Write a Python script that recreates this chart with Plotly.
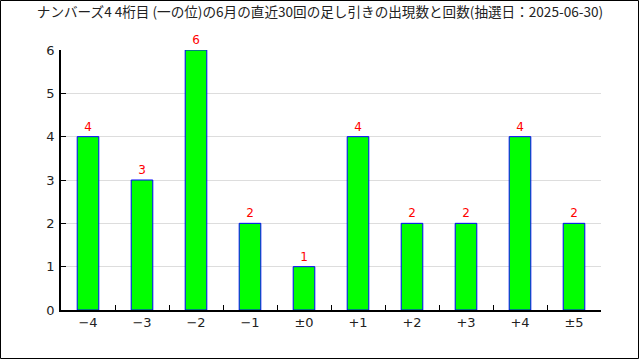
import plotly.graph_objects as go

categories = ["−4", "−3", "−2", "−1", "±0", "+1", "+2", "+3", "+4", "±5"]
counts = [4, 3, 6, 2, 1, 4, 2, 2, 4, 2]
title = "ナンバーズ4 4桁目 (一の位)の6月の直近30回の足し引きの出現数と回数(抽選日：2025-06-30)"

W, H = 640, 360
L, R, T, B = 61, 39, 50, 50
pw, ph = W - L - R, H - T - B

fig = go.Figure()
fig.add_trace(go.Bar(
    x=categories, y=counts, width=0.4,
    marker=dict(color="#00ff00", line=dict(color="#0000ff", width=1)),
    text=[str(c) for c in counts], textposition="outside",
    textfont=dict(color="#ff0000", size=12, family="DejaVu Sans"),
    cliponaxis=False,
))

fig.update_layout(
    width=W, height=H,
    margin=dict(l=L, r=R, t=T, b=B),
    paper_bgcolor="white", plot_bgcolor="white",
    showlegend=False,
    font=dict(family="DejaVu Sans", size=12, color="#222"),
    title=dict(text=title, x=0.5, xanchor="center", y=1 - 12 / H, yanchor="middle",
               font=dict(family="Noto Sans CJK JP", size=13.6, color="#222")),
    xaxis=dict(showline=True, linecolor="black", linewidth=1.5, ticks="inside",
               tickson="boundaries", ticklen=5, tickcolor="black", showgrid=False,
               tickfont=dict(size=13)),
    yaxis=dict(range=[0, 6], dtick=1, showline=True, linecolor="black", linewidth=1.5,
               ticks="inside", ticklen=5, tickcolor="black", gridcolor="#dddddd",
               zeroline=False, tickfont=dict(size=13), ticklabelstandoff=2),
    bargap=0.6,
)

# outer frame around the whole image
fig.add_shape(type="rect", xref="paper", yref="paper",
              x0=(0.5 - L) / pw, x1=(W - 1.5 - L) / pw,
              y0=-(B - 1.5) / ph,
              y1=1 + (T - 0.5) / ph,
              line=dict(color="black", width=1), layer="above")

fig.write_html("out.html")
